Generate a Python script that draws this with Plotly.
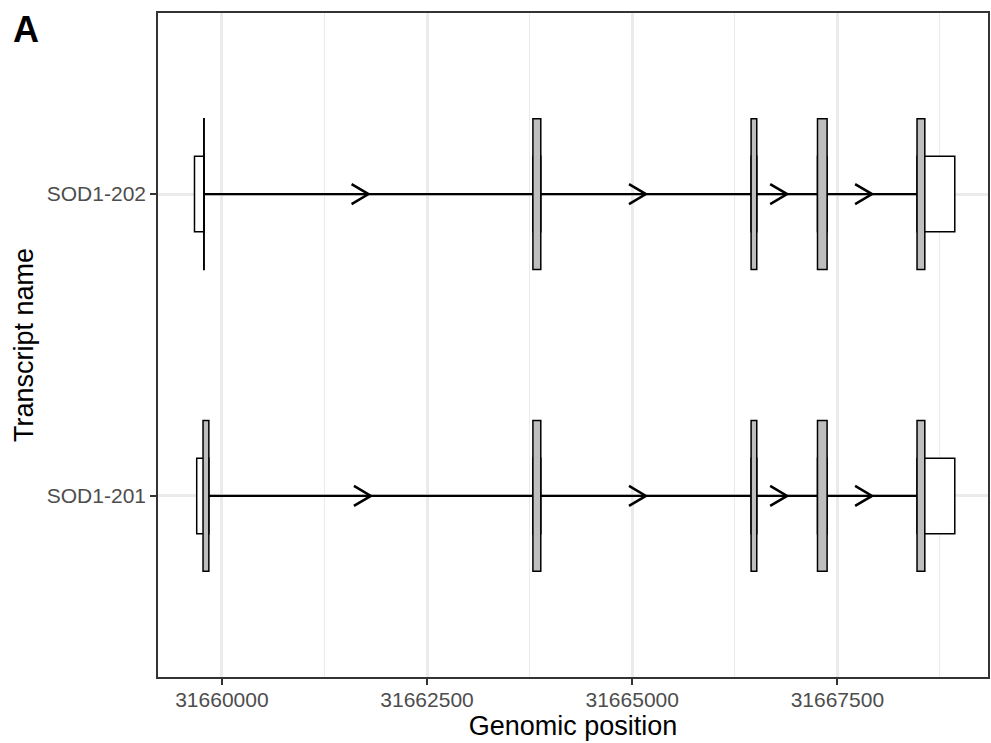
import plotly.graph_objects as go

# ---------------- data ----------------
TRANSCRIPTS = ["SOD1-201", "SOD1-202"]

SOD1_201_EXON_START = [31659693, 31663790, 31666449, 31667258, 31668471]
SOD1_201_EXON_END = [31659841, 31663886, 31666518, 31667375, 31668931]
SOD1_201_CDS_START = [31659770, 31663790, 31666449, 31667258, 31668471]
SOD1_201_CDS_END = [31659841, 31663886, 31666518, 31667375, 31668566]

SOD1_202_EXON_START = [31659666, 31663790, 31666449, 31667258, 31668471]
SOD1_202_EXON_END = [31659784, 31663886, 31666518, 31667375, 31668931]
SOD1_202_CDS_START = [31659779, 31663790, 31666449, 31667258, 31668471]
SOD1_202_CDS_END = [31659784, 31663886, 31666518, 31667375, 31668566]

X_TICKS = [31660000, 31662500, 31665000, 31667500]

TX_DATA = {
    "SOD1-201": (SOD1_201_EXON_START, SOD1_201_EXON_END, SOD1_201_CDS_START, SOD1_201_CDS_END),
    "SOD1-202": (SOD1_202_EXON_START, SOD1_202_EXON_END, SOD1_202_CDS_START, SOD1_202_CDS_END),
}

# ---------------- layout geometry ----------------
W, H = 991, 743
M_L, M_R, M_T, M_B = 158, 1, 13, 66
PLOT_W = W - M_L - M_R
PLOT_H = H - M_T - M_B

all_starts = SOD1_201_EXON_START + SOD1_202_EXON_START
all_ends = SOD1_201_EXON_END + SOD1_202_EXON_END
xmin, xmax = min(all_starts), max(all_ends)
R = xmax - xmin
x_range = [xmin - 0.048 * R, xmax + 0.0437 * R]
y_range = [0.4, len(TRANSCRIPTS) + 0.6]

units_per_px_x = (x_range[1] - x_range[0]) / PLOT_W
units_per_px_y = (y_range[1] - y_range[0]) / PLOT_H

ARROW_DX = 17 * units_per_px_x
ARROW_DY = 10 * units_per_px_y

CDS_H = 0.25
UTR_H = 0.125

fig = go.Figure()
shapes = []

for i, name in enumerate(TRANSCRIPTS):
    yc = i + 1
    es, ee, cs, ce = TX_DATA[name]
    # introns + arrows
    for k in range(len(es) - 1):
        a, b = ee[k], es[k + 1]
        fig.add_trace(go.Scatter(x=[a, b], y=[yc, yc], mode="lines",
                                 line=dict(color="black", width=2.4),
                                 hoverinfo="skip", showlegend=False))
        mid = (a + b) / 2
        fig.add_trace(go.Scatter(x=[mid - ARROW_DX, mid, mid - ARROW_DX],
                                 y=[yc + ARROW_DY, yc, yc - ARROW_DY],
                                 mode="lines", line=dict(color="black", width=2.5),
                                 hoverinfo="skip", showlegend=False))
    # exons (UTR height, white)
    for s, e in zip(es, ee):
        shapes.append(dict(type="rect", xref="x", yref="y", x0=s, x1=e,
                           y0=yc - UTR_H, y1=yc + UTR_H, fillcolor="white",
                           line=dict(color="black", width=1.5), layer="above"))
    # CDS (grey, taller)
    for s, e in zip(cs, ce):
        shapes.append(dict(type="rect", xref="x", yref="y", x0=s, x1=e,
                           y0=yc - CDS_H, y1=yc + CDS_H, fillcolor="#BEBEBE",
                           line=dict(color="black", width=1.5), layer="above"))

FONT = "Liberation Sans, Arial, sans-serif"

fig.update_layout(
    width=W, height=H,
    margin=dict(l=M_L, r=M_R, t=M_T, b=M_B, pad=0),
    paper_bgcolor="white", plot_bgcolor="white",
    shapes=shapes,
    showlegend=False,
    title=dict(text="<b>A</b>", font=dict(family=FONT, size=36, color="black"),
               xref="container", yref="container", x=13 / W, y=1 - 29.5 / H,
               xanchor="left", yanchor="middle"),
    xaxis=dict(
        range=x_range, tickmode="array", tickvals=X_TICKS,
        ticktext=[str(v) for v in X_TICKS],
        showgrid=True, gridcolor="#EBEBEB", gridwidth=2.5,
        minor=dict(tickmode="array",
                   tickvals=[(X_TICKS[j] + X_TICKS[j + 1]) / 2 for j in range(len(X_TICKS) - 1)]
                   + [X_TICKS[0] - 1250, X_TICKS[-1] + 1250],
                   showgrid=True, gridcolor="#EBEBEB", gridwidth=1.2),
        zeroline=False,
        showline=True, mirror=True, linecolor="#333333", linewidth=1.6,
        ticks="outside", ticklen=6, tickwidth=1.6, tickcolor="#333333",
        ticklabelstandoff=-3,
        tickfont=dict(family=FONT, size=21, color="#4D4D4D"),
        title=dict(text="Genomic position", font=dict(family=FONT, size=27, color="black"),
                   standoff=5),
    ),
    yaxis=dict(
        range=y_range, tickmode="array", tickvals=[i + 1 for i in range(len(TRANSCRIPTS))],
        ticktext=TRANSCRIPTS,
        showgrid=True, gridcolor="#EBEBEB", gridwidth=2.5,
        zeroline=False,
        showline=True, mirror=True, linecolor="#333333", linewidth=1.6,
        ticks="outside", ticklen=6, tickwidth=1.6, tickcolor="#333333",
        tickfont=dict(family=FONT, size=21, color="#4D4D4D"),
        title=dict(text="Transcript name", font=dict(family=FONT, size=27, color="black"),
                   standoff=5),
    ),
)

fig.write_html(
    "out.html",
    config={"displayModeBar": False},
    post_script="document.body.style.margin='0';document.body.style.overflow='hidden';",
)
